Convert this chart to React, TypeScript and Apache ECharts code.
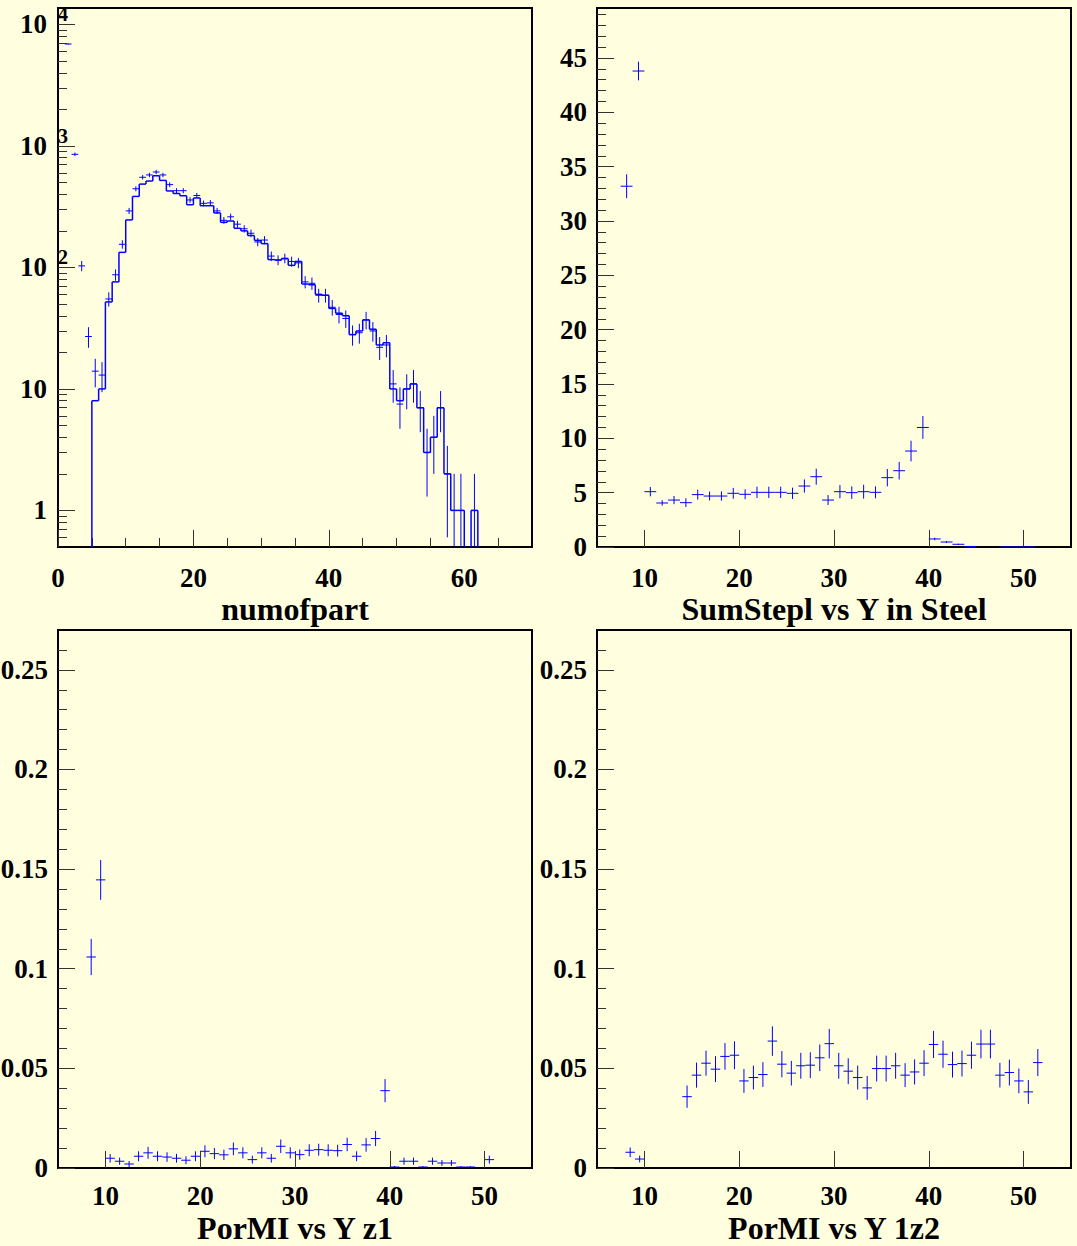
import React, { useEffect, useRef } from "react";
import * as echarts from "echarts";

const W = 1077;
const H = 1246;
const BG = "#ffffe0";
const BLUE = "#0000ff";
const TICK = "#333333";
const SERIF = '"Liberation Serif", "Times New Roman", Times, serif';

// ---------- Panel 1 : numofpart (log y) ----------
const P1_TITLE = "numofpart";
const P1_X_RANGE = [0, 70];
const P1_Y_RANGE = [0.5, 13650];
const P1_X_MAJOR = [0, 20, 40, 60];
const P1_X_MAJOR_LABELS = ["0", "20", "40", "60"];
const P1_X_MINOR = [5, 10, 15, 25, 30, 35, 45, 50, 55, 65];
const P1_Y_DECADES = [1, 10, 100, 1000, 10000];
const P1_Y_BASE_LABELS = ["1", "10", "10", "10", "10"];
const P1_Y_EXP_DECADES = [100, 1000, 10000];
const P1_Y_EXP_LABELS = ["2", "3", "4"];
const P1_Y_MINOR_DECADES = [0.1, 1, 10, 100, 1000];
const P1_Y_MINOR_MANTISSAS = [2, 3, 4, 5, 6, 7, 8, 9];
const P1_BIN_W = 1;
// step histogram, bins 5..61
const P1_STEP_FIRST_BIN = 5;
const P1_STEP_COUNTS = [
  8, 10, 52, 76, 133, 246, 384, 485, 514, 568,
  520, 426, 406, 389, 328, 373, 322, 322, 281, 235,
  241, 210, 200, 183, 167, 157, 116, 115, 118, 104,
  112, 73, 72, 60, 59, 46, 42, 40, 28, 30,
  37, 31, 23, 24, 10, 8, 10, 11, 7, 3,
  4, 7, 2, 1, 1, 0, 1,
];
// error-bar histogram, bins 1..61
const P1_PTS_FIRST_BIN = 1;
const P1_PTS = [
  6900, 853, 103, 27, 14, 13, 55, 87, 155, 292,
  444, 552, 577, 610, 577, 480, 428, 428, 359, 391,
  337, 340, 292, 244, 261, 227, 208, 191, 162, 168,
  124, 115, 119, 112, 109, 76, 74, 59, 59, 47,
  41, 38, 28, 29, 37, 30, 22, 23, 11, 7.5,
  10, 11, 7, 3, 4, 7, 2, 1, 1, 0, 1,
];
const P1_PTS_ERR = [
  83, 29, 10, 5.2, 3.7, 3.6, 7.4, 9.3, 12.4, 17,
  21, 23.5, 24, 24.7, 24, 22, 20.7, 20.7, 19, 19.8,
  18.4, 18.4, 17, 15.6, 16.2, 15, 14.4, 13.8, 12.7, 13,
  11.1, 10.7, 10.9, 10.6, 10.4, 8.7, 8.6, 7.7, 7.7, 6.9,
  6.4, 6.2, 5.3, 5.4, 6.1, 5.5, 4.7, 4.8, 3.3, 2.8,
  3.2, 3.3, 2.6, 1.7, 2, 2.6, 1.4, 1, 1, 0, 1,
];

// ---------- Panel 2 : SumStepl vs Y in Steel ----------
const P2_TITLE = "SumStepl vs Y in Steel";
const P2_X_RANGE = [5, 55];
const P2_Y_RANGE = [0, 49.6];
const P2_BIN_LOW = 5;
const P2_BIN_W = 1.25;
const P2_VAL = [
  null, null, 33.2, 43.8, 5.09, 4.05, 4.32, 4.08, 4.82, 4.69,
  4.69, 4.94, 4.85, 5.03, 5.03, 5.03, 4.94, 5.61, 6.47, 4.32,
  5.09, 5.0, 5.09, 5.03, 6.38, 7.02, 8.83, 11.0, 0.74, 0.46,
  0.25, 0.05, null, null, 0.01, 0.01, 0.01,
];
const P2_ERR = [
  null, null, 1.1, 0.86, 0.43, 0.25, 0.38, 0.4, 0.46, 0.41,
  0.43, 0.5, 0.46, 0.52, 0.52, 0.52, 0.52, 0.61, 0.74, 0.46,
  0.61, 0.58, 0.64, 0.55, 0.8, 0.81, 0.95, 1.05, 0.12, 0.08,
  0.05, 0.02, null, null, 0.005, 0.005, 0.005,
];
const P2_Y_MAJOR = [0, 5, 10, 15, 20, 25, 30, 35, 40, 45];
const P2_Y_MAJOR_LABELS = ["0", "5", "10", "15", "20", "25", "30", "35", "40", "45"];

// ---------- Shared x axis for panels 2-4 ----------
const Y_X_MAJOR = [10, 20, 30, 40, 50];
const Y_X_MAJOR_LABELS = ["10", "20", "30", "40", "50"];

// ---------- Panels 3/4 : PorMI ----------
const P3_TITLE = "PorMI vs Y z1";
const P4_TITLE = "PorMI vs Y 1z2";
const P34_X_RANGE = [5, 55];
const P34_Y_RANGE = [0, 0.27];
const P34_BIN_LOW = 5;
const P34_BIN_W = 1;
const P34_Y_MAJOR = [0, 0.05, 0.1, 0.15, 0.2, 0.25];
const P34_Y_MAJOR_LABELS = ["0", "0.05", "0.1", "0.15", "0.2", "0.25"];
// bins 5..54
const P3_VAL = [
  null, null, null, 0.1059, 0.1446, 0.0049, 0.0034, 0.002, 0.0059, 0.0076,
  0.0059, 0.0055, 0.0049, 0.0039, 0.0059, 0.0084, 0.0072, 0.0066, 0.0096, 0.0076,
  0.0042, 0.0076, 0.0049, 0.0109, 0.0076, 0.0067, 0.0089, 0.0092, 0.0089, 0.0087,
  0.0118, 0.0059, 0.0116, 0.0148, 0.0388, 0.0005, 0.0034, 0.0034, 0.0005, 0.0034,
  0.0025, 0.0025, 0.0005, 0.0005, null, 0.0042, null, null, null, null,
];
const P3_ERR = [
  null, null, null, 0.0091, 0.01, 0.0022, 0.0018, 0.0015, 0.0025, 0.003,
  0.0025, 0.0024, 0.0022, 0.002, 0.0025, 0.003, 0.0028, 0.0026, 0.0032, 0.0028,
  0.002, 0.0028, 0.0022, 0.0034, 0.0028, 0.0026, 0.003, 0.003, 0.003, 0.003,
  0.0034, 0.0025, 0.0034, 0.0038, 0.0058, 0.0005, 0.0018, 0.0018, 0.0005, 0.0018,
  0.0015, 0.0015, 0.0005, 0.0005, null, 0.002, null, null, null, null,
];
const P4_VAL = [
  null, null, null, 0.0079, 0.0045, null, null, null, null, 0.0358,
  0.0466, 0.0526, 0.0496, 0.056, 0.0566, 0.0437, 0.0454, 0.0469, 0.0637, 0.0521,
  0.0476, 0.0513, 0.0516, 0.0553, 0.0624, 0.0513, 0.0486, 0.0454, 0.0402, 0.0499,
  0.0499, 0.0513, 0.0466, 0.0482, 0.0526, 0.062, 0.0571, 0.0519, 0.0524, 0.0566,
  0.0622, 0.0622, 0.0466, 0.0479, 0.0437, 0.0382, 0.0529, null, null, null,
];
const P4_ERR = [
  null, null, null, 0.0024, 0.0017, null, null, null, null, 0.0056,
  0.0063, 0.0063, 0.0065, 0.0067, 0.007, 0.006, 0.006, 0.0062, 0.0074, 0.0066,
  0.0062, 0.0065, 0.0065, 0.0067, 0.0074, 0.0065, 0.0065, 0.006, 0.006, 0.0065,
  0.0065, 0.0065, 0.006, 0.0063, 0.0065, 0.0068, 0.0068, 0.0065, 0.0065, 0.0068,
  0.0072, 0.0072, 0.0062, 0.0065, 0.0062, 0.006, 0.0068, null, null, null,
];

// ---------- helpers ----------
const LOG_FLOOR = 1e-3;
const lg = (v: number) => Math.log10(Math.max(v, LOG_FLOOR));

const LABEL = {
  color: "#000",
  fontFamily: SERIF,
  fontWeight: "bold" as const,
  fontSize: 27,
  lineHeight: 24,
};
const NAME = {
  color: "#000",
  fontFamily: SERIF,
  fontWeight: "bold" as const,
  fontSize: 32,
  lineHeight: 28,
};

const labelFor = (vals: number[], labels: string[]) => (v: number) => {
  const i = vals.findIndex((a) => Math.abs(a - v) < 1e-9);
  return i >= 0 ? labels[i] : "";
};

function minorEvery(min: number, max: number, step: number, majorStep: number) {
  const out: number[] = [];
  const n = Math.round((max - min) / step);
  for (let k = 0; k <= n; k++) {
    const v = +(min + k * step).toFixed(6);
    const r = v / majorStep;
    if (Math.abs(r - Math.round(r)) > 1e-6 && v > min && v < max) out.push(v);
  }
  return out;
}

function xAxisPair(
  gi: number,
  range: number[],
  major: number[],
  labels: string[],
  minor: number[],
  name: string,
  labelMargin: number,
  nameGap: number
) {
  const base = {
    type: "value",
    gridIndex: gi,
    min: range[0],
    max: range[1],
    position: "bottom",
    axisLine: { show: false, onZero: false },
    splitLine: { show: false },
    splitArea: { show: false },
  };
  return [
    {
      ...base,
      axisTick: { show: true, inside: true, length: 17, customValues: major, lineStyle: { color: TICK, width: 1 } },
      axisLabel: { show: true, customValues: major, margin: labelMargin, formatter: labelFor(major, labels), ...LABEL },
      name,
      nameLocation: "middle",
      nameGap,
      nameMoveOverlap: false,
      nameTextStyle: NAME,
    },
    {
      ...base,
      axisTick: { show: true, inside: true, length: 9, customValues: minor, lineStyle: { color: TICK, width: 1 } },
      axisLabel: { show: false },
    },
  ];
}

function yAxisPair(
  gi: number,
  range: number[],
  major: number[],
  labels: string[],
  minor: number[],
  margin: number,
  expVals?: number[],
  expLabels?: string[]
) {
  const base = {
    type: "value",
    gridIndex: gi,
    min: range[0],
    max: range[1],
    position: "left",
    axisLine: { show: false, onZero: false },
    splitLine: { show: false },
    splitArea: { show: false },
  };
  return [
    {
      ...base,
      axisTick: { show: true, inside: true, length: 17, customValues: major, lineStyle: { color: TICK, width: 1 } },
      axisLabel: { show: true, customValues: major, margin, formatter: labelFor(major, labels), ...LABEL },
    },
    {
      ...base,
      axisTick: { show: true, inside: true, length: 9, customValues: minor, lineStyle: { color: TICK, width: 1 } },
      axisLabel: expVals
        ? {
            show: true,
            customValues: expVals,
            formatter: labelFor(expVals, expLabels || []),
            align: "left",
            verticalAlign: "bottom",
            margin: 0,
            color: "#000",
            fontFamily: SERIF,
            fontWeight: "bold",
            fontSize: 20,
            lineHeight: 20,
          }
        : { show: false },
    },
  ];
}

const LINE_STYLE = (w: number) => ({ stroke: BLUE, lineWidth: w, fill: "none" });

function crossSeries(pi: number, items: number[][], halfW: number) {
  return {
    type: "custom",
    xAxisIndex: pi * 2,
    yAxisIndex: pi * 2,
    silent: true,
    z: 3,
    encode: { x: 0, y: 1 },
    data: items,
    renderItem: (params: any, api: any) => {
      const x = api.value(0);
      const y = api.value(1);
      const hi = api.value(2);
      const lo = api.value(3);
      const cs = params.coordSys;
      const top = cs.y;
      const bottom = cs.y + cs.height;
      const clampY = (p: number) => Math.max(top, Math.min(bottom, isFinite(p) ? p : bottom));
      const c = api.coord([x, y]);
      const l = api.coord([x - halfW, y]);
      const r = api.coord([x + halfW, y]);
      const ph = clampY(api.coord([x, hi])[1]);
      const pl = clampY(api.coord([x, lo])[1]);
      const cy = c[1];
      const children: any[] = [];
      if (cy <= bottom) {
        children.push({ type: "line", shape: { x1: l[0], y1: cy, x2: r[0], y2: cy }, style: LINE_STYLE(1) });
      }
      if (pl - ph > 0.2) {
        children.push({ type: "line", shape: { x1: c[0], y1: ph, x2: c[0], y2: pl }, style: LINE_STYLE(1) });
      }
      return { type: "group", children };
    },
  };
}

function stepSeries(pi: number, items: number[][]) {
  return {
    type: "custom",
    xAxisIndex: pi * 2,
    yAxisIndex: pi * 2,
    silent: true,
    z: 2,
    encode: { x: [0, 1], y: 2 },
    data: items,
    renderItem: (params: any, api: any) => {
      const lo = api.value(0);
      const hi = api.value(1);
      const y = api.value(2);
      const py = api.value(3);
      const cs = params.coordSys;
      const top = cs.y;
      const bottom = cs.y + cs.height;
      const clampY = (p: number) => Math.max(top, Math.min(bottom, p));
      const a = api.coord([lo, y]);
      const b = api.coord([hi, y]);
      const p = api.coord([lo, py]);
      const yy = clampY(a[1]);
      const pp = clampY(p[1]);
      const children: any[] = [];
      if (yy < bottom - 0.5) {
        children.push({ type: "line", shape: { x1: a[0], y1: yy, x2: b[0], y2: yy }, style: LINE_STYLE(1.5) });
      }
      if (Math.abs(pp - yy) > 0.01) {
        children.push({ type: "line", shape: { x1: a[0], y1: pp, x2: a[0], y2: yy }, style: LINE_STYLE(1.5) });
      }
      return { type: "group", children };
    },
  };
}

function linearItems(vals: (number | null)[], errs: (number | null)[], low: number, w: number) {
  const out: number[][] = [];
  vals.forEach((v, i) => {
    if (v == null) return;
    const e = errs[i] || 0;
    const c = low + (i + 0.5) * w;
    out.push([c, v, v + e, v - e]);
  });
  return out;
}

function buildOption() {
  // panel 1 derived items (log10 space)
  const p1Pts: number[][] = [];
  P1_PTS.forEach((v, i) => {
    if (!(v > 0)) return;
    const e = P1_PTS_ERR[i];
    const c = P1_PTS_FIRST_BIN + i + 0.5 * P1_BIN_W;
    p1Pts.push([c, lg(v), lg(v + e), lg(v - e)]);
  });
  const counts = [...P1_STEP_COUNTS, 0];
  const p1Step: number[][] = counts.map((v, i) => {
    const lo = P1_STEP_FIRST_BIN + i * P1_BIN_W;
    const prev = i > 0 ? counts[i - 1] : 0;
    return [lo, lo + P1_BIN_W, lg(v > 0 ? v : 0), lg(prev > 0 ? prev : 0)];
  });

  const p1YMajor = P1_Y_DECADES.map((d) => Math.log10(d));
  const p1YExp = P1_Y_EXP_DECADES.map((d) => Math.log10(d));
  const p1YRange = [Math.log10(P1_Y_RANGE[0]), Math.log10(P1_Y_RANGE[1])];
  const p1YMinor: number[] = [];
  P1_Y_MINOR_DECADES.forEach((d) =>
    P1_Y_MINOR_MANTISSAS.forEach((m) => {
      const v = Math.log10(m * d);
      if (v > p1YRange[0] + 1e-6 && v < p1YRange[1]) p1YMinor.push(v);
    })
  );

  const p2Minor = minorEvery(P2_X_RANGE[0], P2_X_RANGE[1], 2, 10).filter((v) => v % 2 === 0);
  const p2YMinor = minorEvery(P2_Y_RANGE[0], P2_Y_RANGE[1], 1, 5);
  const p34YMinor = minorEvery(P34_Y_RANGE[0], P34_Y_RANGE[1], 0.01, 0.05);

  const grid = (left: number, top: number, height: number) => ({
    left,
    top,
    width: 474,
    height,
    show: true,
    backgroundColor: BG,
    borderColor: "#000",
    borderWidth: 2,
    containLabel: false,
    outerBoundsMode: "none",
  });

  return {
    backgroundColor: BG,
    animation: false,
    textStyle: { fontFamily: SERIF },
    grid: [grid(58, 8, 539), grid(597, 8, 539), grid(58, 630, 538), grid(597, 630, 538)],
    xAxis: [
      ...xAxisPair(0, P1_X_RANGE, P1_X_MAJOR, P1_X_MAJOR_LABELS, P1_X_MINOR, P1_TITLE, 19, 48),
      ...xAxisPair(1, P2_X_RANGE, Y_X_MAJOR, Y_X_MAJOR_LABELS, p2Minor, P2_TITLE, 19, 48),
      ...xAxisPair(2, P34_X_RANGE, Y_X_MAJOR, Y_X_MAJOR_LABELS, p2Minor, P3_TITLE, 16, 46),
      ...xAxisPair(3, P34_X_RANGE, Y_X_MAJOR, Y_X_MAJOR_LABELS, p2Minor, P4_TITLE, 16, 46),
    ],
    yAxis: [
      ...yAxisPair(0, p1YRange, p1YMajor, P1_Y_BASE_LABELS, p1YMinor, 11, p1YExp, P1_Y_EXP_LABELS),
      ...yAxisPair(1, P2_Y_RANGE, P2_Y_MAJOR, P2_Y_MAJOR_LABELS, p2YMinor, 10),
      ...yAxisPair(2, P34_Y_RANGE, P34_Y_MAJOR, P34_Y_MAJOR_LABELS, p34YMinor, 10),
      ...yAxisPair(3, P34_Y_RANGE, P34_Y_MAJOR, P34_Y_MAJOR_LABELS, p34YMinor, 10),
    ],
    series: [
      stepSeries(0, p1Step),
      crossSeries(0, p1Pts, P1_BIN_W / 2),
      crossSeries(1, linearItems(P2_VAL, P2_ERR, P2_BIN_LOW, P2_BIN_W), P2_BIN_W / 2),
      crossSeries(2, linearItems(P3_VAL, P3_ERR, P34_BIN_LOW, P34_BIN_W), P34_BIN_W / 2),
      crossSeries(3, linearItems(P4_VAL, P4_ERR, P34_BIN_LOW, P34_BIN_W), P34_BIN_W / 2),
    ],
  };
}

export default function App() {
  const ref = useRef<HTMLDivElement>(null);
  useEffect(() => {
    if (!ref.current) return;
    const chart = echarts.init(ref.current, undefined, { renderer: "svg", width: W, height: H });
    chart.setOption(buildOption() as any);
    return () => chart.dispose();
  }, []);
  return (
    <div
      ref={ref}
      style={{ position: "absolute", left: 0, top: 0, width: W, height: H, background: BG }}
    />
  );
}
